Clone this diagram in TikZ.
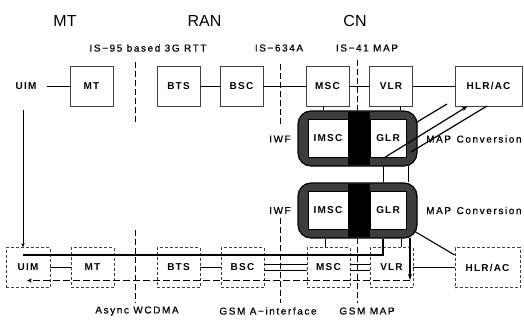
\documentclass[tikz,border=0pt]{standalone}
\usepackage{fontspec}
\setmainfont{Liberation Sans}
\newfontfamily\lblfont[LetterSpace=16,FakeBold=0.6]{Liberation Sans}
\newfontfamily\boxfont[LetterSpace=12]{Liberation Sans}
\usetikzlibrary{arrows.meta,calc}
\begin{document}
\begin{tikzpicture}[x=1pt,y=-1pt,
  nbox/.style={draw=black!75, line width=0.6pt, minimum width=43pt, minimum height=40pt, inner sep=0pt,
    font=\boxfont\bfseries\fontsize{10}{12}\selectfont},
  dbox/.style={nbox, dash pattern=on 3pt off 2pt},
  plain/.style={inner sep=0pt, font=\boxfont\bfseries\fontsize{10}{12}\selectfont},
  lbl/.style={inner sep=0pt, font=\lblfont\fontsize{10}{12}\selectfont},
  ttl/.style={inner sep=0pt, font=\fontsize{16}{19}\selectfont},
  conn/.style={line width=0.9pt},
  thinconn/.style={line width=0.6pt},
  thick line/.style={line width=1.6pt},
  divider/.style={line width=0.9pt, dash pattern=on 6pt off 3pt},
  iwf/.style={draw=black, line width=1.2pt, fill=black!76, rounded corners=13pt, minimum width=119pt, minimum height=55pt, inner sep=0pt},
  inbox/.style={draw=black, line width=0.5pt, fill=white, minimum height=38pt, inner sep=0pt,
    font=\boxfont\bfseries\fontsize{10}{12}\selectfont},
  tip/.style={-{Stealth[length=6pt,width=4pt]}}
]
\useasboundingbox (0,0) rectangle (524,324);

% titles
\node[ttl] (tMT) at (65,21) {MT};
\node[ttl] (tRAN) at (204.5,21) {RAN};
\node[ttl] (tCN) at (355,21) {CN};

% interface labels
\node[lbl] (i1) at (148,48) {IS−95 based 3G RTT};
\node[lbl] (i2) at (279,48) {IS−634A};
\node[lbl] (i3) at (367,48) {IS−41 MAP};
\node[lbl] (b1) at (137,311) {Async WCDMA};
\node[lbl] (b2) at (268,311) {GSM A−interface};
\node[lbl] (b3) at (367,311) {GSM MAP};

% dividers
\draw[divider] (135,62) -- (135,124);
\draw[divider] (280,64) -- (280,126);
\draw[divider] (357,60) -- (357,111);
\draw[divider] (135,230) -- (135,303);
\draw[divider] (280,218) -- (280,303);
\draw[divider] (357,238) -- (357,303);

% top row
\node[plain] (uimT) at (26,86) {UIM};
\node[nbox] (mtT) at (91.5,86) {MT};
\node[nbox] (btsT) at (178.5,86) {BTS};
\node[nbox] (bscT) at (241.5,86) {BSC};
\node[nbox] (mscT) at (327.5,86) {MSC};
\node[nbox] (vlrT) at (391,86) {VLR};
\node[nbox, minimum width=67pt] (hlrT) at (488.5,86) {HLR/AC};

% IWF blocks
\node[iwf] (iwf1) at (357.5,138.5) {};
\fill[black] (348,111.6) rectangle (370,165.4);
\node[inbox, minimum width=40pt] (imsc1) at (328,138.5) {IMSC};
\node[inbox, minimum width=36pt] (glr1) at (388,138.5) {GLR};
\node[iwf] (iwf2) at (357.5,210.5) {};
\fill[black] (348,183.6) rectangle (370,237.4);
\node[inbox, minimum width=40pt] (imsc2) at (328,210.5) {IMSC};
\node[inbox, minimum width=36pt] (glr2) at (388,210.5) {GLR};

\node[lbl] (iwfl1) at (280,139) {IWF};
\node[lbl] (iwfl2) at (280,210.5) {IWF};
\node[lbl, anchor=west] (mapc1) at (426,139) {MAP\hspace{5.5pt}Conversion};
\node[lbl, anchor=west] (mapc2) at (426,210.5) {MAP\hspace{5.5pt}Conversion};

% bottom row
\node[dbox, minimum width=44pt] (uimB) at (28,267.5) {UIM};
\node[dbox] (mtB) at (92.5,267.5) {MT};
\node[dbox] (btsB) at (178.5,267.5) {BTS};
\node[dbox] (bscB) at (242.5,267.5) {BSC};
\node[dbox] (mscB) at (328.5,267.5) {MSC};
\node[dbox] (vlrB) at (391.5,267.5) {VLR};
\node[dbox, minimum width=65pt] (hlrB) at (487.5,267.5) {HLR/AC};

% top connectors
\draw[conn] ([xshift=10pt]uimT.east) -- (mtT.west);
\draw[conn] (btsT) -- (bscT);
\draw[conn] (bscT) -- (mscT);
\draw[conn] (mscT) -- (vlrT);
\draw[conn] (vlrT) -- (hlrT);
\draw[conn] ([xshift=-4.5pt]mscT.south) -- ([xshift=-4.5pt]mscT.south |- iwf1.north);
\draw[conn] ([xshift=9pt]vlrT.south) -- ([xshift=9pt]vlrT.south |- iwf1.north);

% IWF1 to HLR/AC
\coordinate (a1) at (417,122);
\coordinate (a2) at (447,104);
\coordinate (bb) at (383,158.5);
\coordinate (c1) at (411,152);
\coordinate (c2) at (487,106);
\draw[conn, line width=1.2pt] (a1) -- (a2);
\draw[conn, line width=1.2pt, tip] (bb) -- ([xshift=-21pt]hlrT.south);
\draw[conn, line width=1.2pt] (c1) -- (c2);

% IWF1 to IWF2
\coordinate (v1) at (383,166);
\coordinate (v2) at (408,166);
\draw[conn] (v1) -- (v1 |- iwf2.north);
\draw[conn] (v2) -- (v2 |- iwf2.north);

% UIM moves down
\coordinate (u1) at (23,110);
\draw[conn, -{Stealth[length=4pt,width=3.5pt]}] (u1) -- (u1 |- uimB.north);

% bottom connectors
\coordinate (k0) at (23,255);
\coordinate (k1) at (383,255);
\draw[thick line] (k0) -- (k1) -- (k1 |- iwf2.south);
\draw[conn] (uimB) -- (mtB);
\draw[conn] (btsB) -- (bscB);
\draw[conn] ([yshift=3pt]bscB.east) -- ([yshift=3pt]mscB.west);
\draw[conn] ([yshift=-3pt]bscB.east) -- ([yshift=-3pt]mscB.west);
\draw[conn] ([yshift=3pt]mscB.east) -- ([yshift=3pt]vlrB.west);
\draw[conn] ([yshift=-3pt]mscB.east) -- ([yshift=-3pt]vlrB.west);
\draw[thinconn] (vlrB) -- (hlrB);
\draw[conn] ([xshift=-3.5pt]mscB.north) -- ([xshift=-3.5pt]mscB.north |- iwf2.south);
\draw[conn] ([xshift=9.5pt]vlrB.north) -- ([xshift=9.5pt]vlrB.north |- iwf2.south);
\coordinate (d0) at (410,238);
\coordinate (d1) at (410,280);
\coordinate (e0) at (410,280.5);
\coordinate (e1) at (27,280.5);
\coordinate (f0) at (414,231);
\draw[conn, line width=1.2pt, tip] (d0) -- (d1);
\draw[conn, dash pattern=on 7pt off 3pt, -{Stealth[length=5pt,width=4pt]}] (e0) -- (e1);
\draw[conn, line width=1.1pt] (f0) -- ([yshift=12.5pt]hlrB.west);
\end{tikzpicture}
\end{document}
